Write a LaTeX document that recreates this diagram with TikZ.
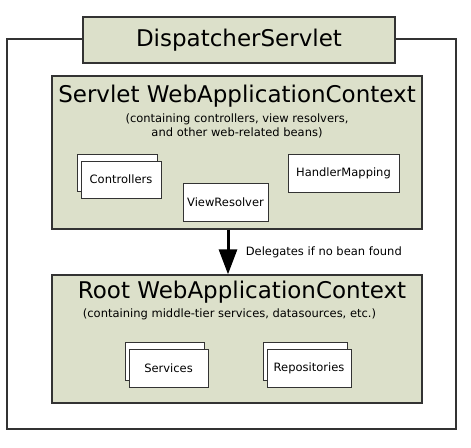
\documentclass[tikz,border=0pt]{standalone}
\usepackage{fontspec}
\setmainfont{DejaVu Sans}
\usepackage{tikz}
\usetikzlibrary{positioning,arrows.meta,calc}
\definecolor{ctxfill}{HTML}{DCE0CA}
\definecolor{edge}{HTML}{333333}

\tikzset{
  ctxbox/.style={draw=edge, fill=ctxfill, line width=1.3pt, inner sep=0pt},
  beanbox/.style={draw=edge, fill=white, line width=0.9pt, inner sep=0pt,
    minimum height=37pt, font=\fontsize{11.5}{13}\selectfont},
  bigtitle/.style={font=\fontsize{23}{27}\selectfont, inner sep=0pt},
  smallnote/.style={font=\fontsize{11.5}{14}\selectfont, align=center, inner sep=0pt},
}

\begin{document}
\begin{tikzpicture}[x=1pt,y=-1pt,>=Latex]
    \useasboundingbox (0,0) rectangle (471,447);
    % outer frame
    \draw[edge, line width=1.3pt] (7,39) rectangle (456,429);
    \node[ctxbox, minimum width=312pt, minimum height=46pt] (dispatcher) at (239,40) {};
    \node[bigtitle] (dispatchertitle) at (dispatcher.center) {DispatcherServlet};

    % servlet context
    \node[ctxbox, minimum width=370pt, minimum height=153pt] (servletctx) at (237,152.5) {};
    \node[bigtitle] (servlettitle) at (237,96) {Servlet WebApplicationContext};
    \node[smallnote] (servletnote) at (237,126) {(containing controllers, view resolvers,\\and other web-related beans)};
    \node[beanbox, minimum width=80pt] (ctrlback) at (117,173) {};
    \node[beanbox, minimum width=80pt] (controllers) at (121,179.5) {Controllers};
    \node[beanbox, minimum width=85pt, minimum height=38pt] (viewresolver) at (225.5,202) {ViewResolver};
    \node[beanbox, minimum width=111pt, minimum height=38pt] (handlermapping) at (343.5,173) {HandlerMapping};

    % root context
    \node[ctxbox, minimum width=370pt, minimum height=128pt] (rootctx) at (237,339) {};
    \node[bigtitle] (roottitle) at (242,292) {Root WebApplicationContext};
    \node[smallnote] (rootnote) at (229.5,314) {(containing middle-tier services, datasources, etc.)};
    \node[beanbox, minimum width=79pt, minimum height=38pt] (servback) at (165,361) {};
    \node[beanbox, minimum width=79pt, minimum height=38pt] (services) at (168.5,368) {Services};
    \node[beanbox, minimum width=84pt, minimum height=38pt] (repoback) at (305,361) {};
    \node[beanbox, minimum width=84pt, minimum height=38pt] (repositories) at (309,368) {Repositories};

    % delegation arrow
    \draw[-{Triangle[width=18pt,length=25pt]}, line width=3pt, black]
      ([xshift=-9pt]servletctx.south) -- ([xshift=-9pt]rootctx.north)
      node[pos=0.5, anchor=west, xshift=13pt, font=\fontsize{11.5}{13}\selectfont] (delegates) {Delegates if no bean found};
\end{tikzpicture}
\end{document}
